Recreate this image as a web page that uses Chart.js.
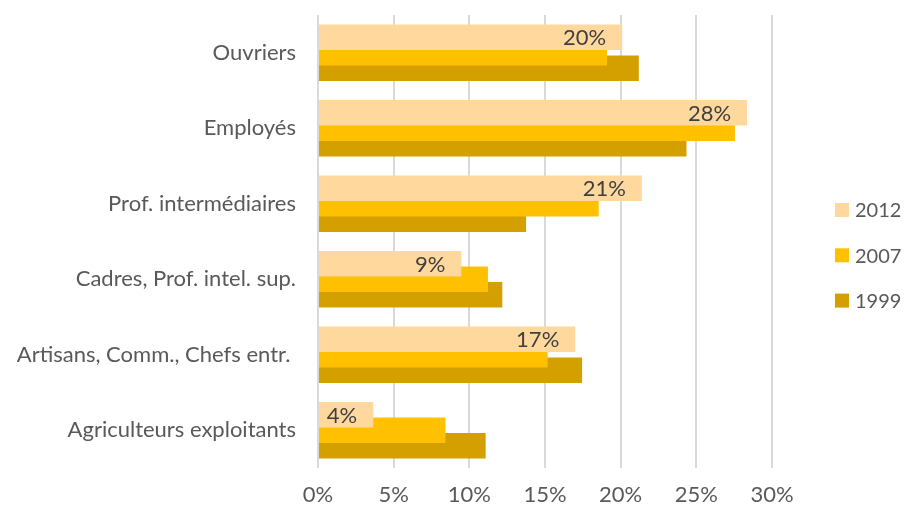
<!DOCTYPE html>
<html>
<head>
<meta charset="utf-8">
<script src="https://cdn.jsdelivr.net/npm/chart.js@4"></script>
<style>
  html, body { margin: 0; padding: 0; background: #fff; }
  #wrap { width: 904px; height: 506px; }
</style>
</head>
<body>
<div id="wrap"><canvas id="barChart" width="904" height="506"></canvas></div>
<script>
// categories, top to bottom
const categories = [
  "Ouvriers",
  "Employés",
  "Prof. intermédiaires",
  "Cadres, Prof. intel. sup.",
  "Artisans, Comm., Chefs entr. ",
  "Agriculteurs exploitants",
];
const years = ["2012", "2007", "1999"];
// values in %
const values2012 = [20.1, 28.35, 21.4, 9.47, 17.0, 3.65];
const values2007 = [19.1, 27.55, 18.55, 11.23, 15.17, 8.42];
const values1999 = [21.2, 24.35, 13.75, 12.18, 17.45, 11.08];
const xTicks = [0, 5, 10, 15, 20, 25, 30];

const colors = ["#FFD89E", "#FFC000", "#D4A000"];
const font = "Lato, 'Open Sans', sans-serif";
const fontSize = 22;

// rounded % labels inside the end of the 2012 bars
const endLabels = {
  id: "endLabels",
  afterDatasetsDraw(chart) {
    const ctx = chart.ctx;
    const meta = chart.getDatasetMeta(0);
    ctx.save();
    ctx.font = fontSize + "px " + font;
    ctx.fillStyle = "#404040";
    ctx.textAlign = "right";
    ctx.textBaseline = "middle";
    meta.data.forEach((bar, i) => {
      ctx.fillText(Math.round(values2012[i]) + "%", bar.x - 16, bar.y + 1);
    });
    ctx.restore();
  },
};

// legend on the right, one row per year
const sideLegend = {
  id: "sideLegend",
  afterDraw(chart) {
    const ctx = chart.ctx;
    ctx.save();
    ctx.font = "20px " + font;
    ctx.textAlign = "left";
    ctx.textBaseline = "middle";
    years.forEach((y, i) => {
      const cy = 210 + i * 45.3;
      ctx.fillStyle = colors[i];
      ctx.fillRect(835, cy - 7, 14, 14);
      ctx.fillStyle = "#595959";
      ctx.fillText(y, 855, cy + 1);
    });
    ctx.restore();
  },
};

const ctx = document.getElementById("barChart").getContext("2d");
const myChart = new Chart(ctx, {
  type: "bar",
  data: {
    labels: categories,
    datasets: [values2012, values2007, values1999].map((d, i) => ({
      label: years[i],
      data: d,
      backgroundColor: colors[i],
      borderWidth: 0,
      categoryPercentage: 0.616,
      barPercentage: 1.63,
    })),
  },
  options: {
    indexAxis: "y",
    responsive: false,
    animation: false,
    layout: { padding: { top: 15, bottom: 0, left: 0, right: 132 } },
    plugins: {
      tooltip: { enabled: false },
      legend: { display: false },
    },
    scales: {
      x: {
        min: 0,
        max: 30,
        afterBuildTicks(scale) {
          scale.ticks = xTicks.map((v) => ({ value: v }));
        },
        afterFit(scale) {
          scale.height = 38;
        },
        grid: { color: "#d9d9d9", lineWidth: 2, drawTicks: false },
        border: { display: false },
        ticks: {
          padding: 16,
          color: "#595959",
          font: { family: font, size: fontSize, lineHeight: 1 },
          callback: (v) => v + "%",
        },
      },
      y: {
        grid: { display: false, tickLength: 22 },
        border: { display: false },
        afterFit(scale) {
          scale.width = 318;
        },
        ticks: {
          padding: 0,
          color: "#595959",
          font: { family: font, size: fontSize, lineHeight: 1 },
        },
      },
    },
  },
  plugins: [endLabels, sideLegend],
});
</script>
</body>
</html>
